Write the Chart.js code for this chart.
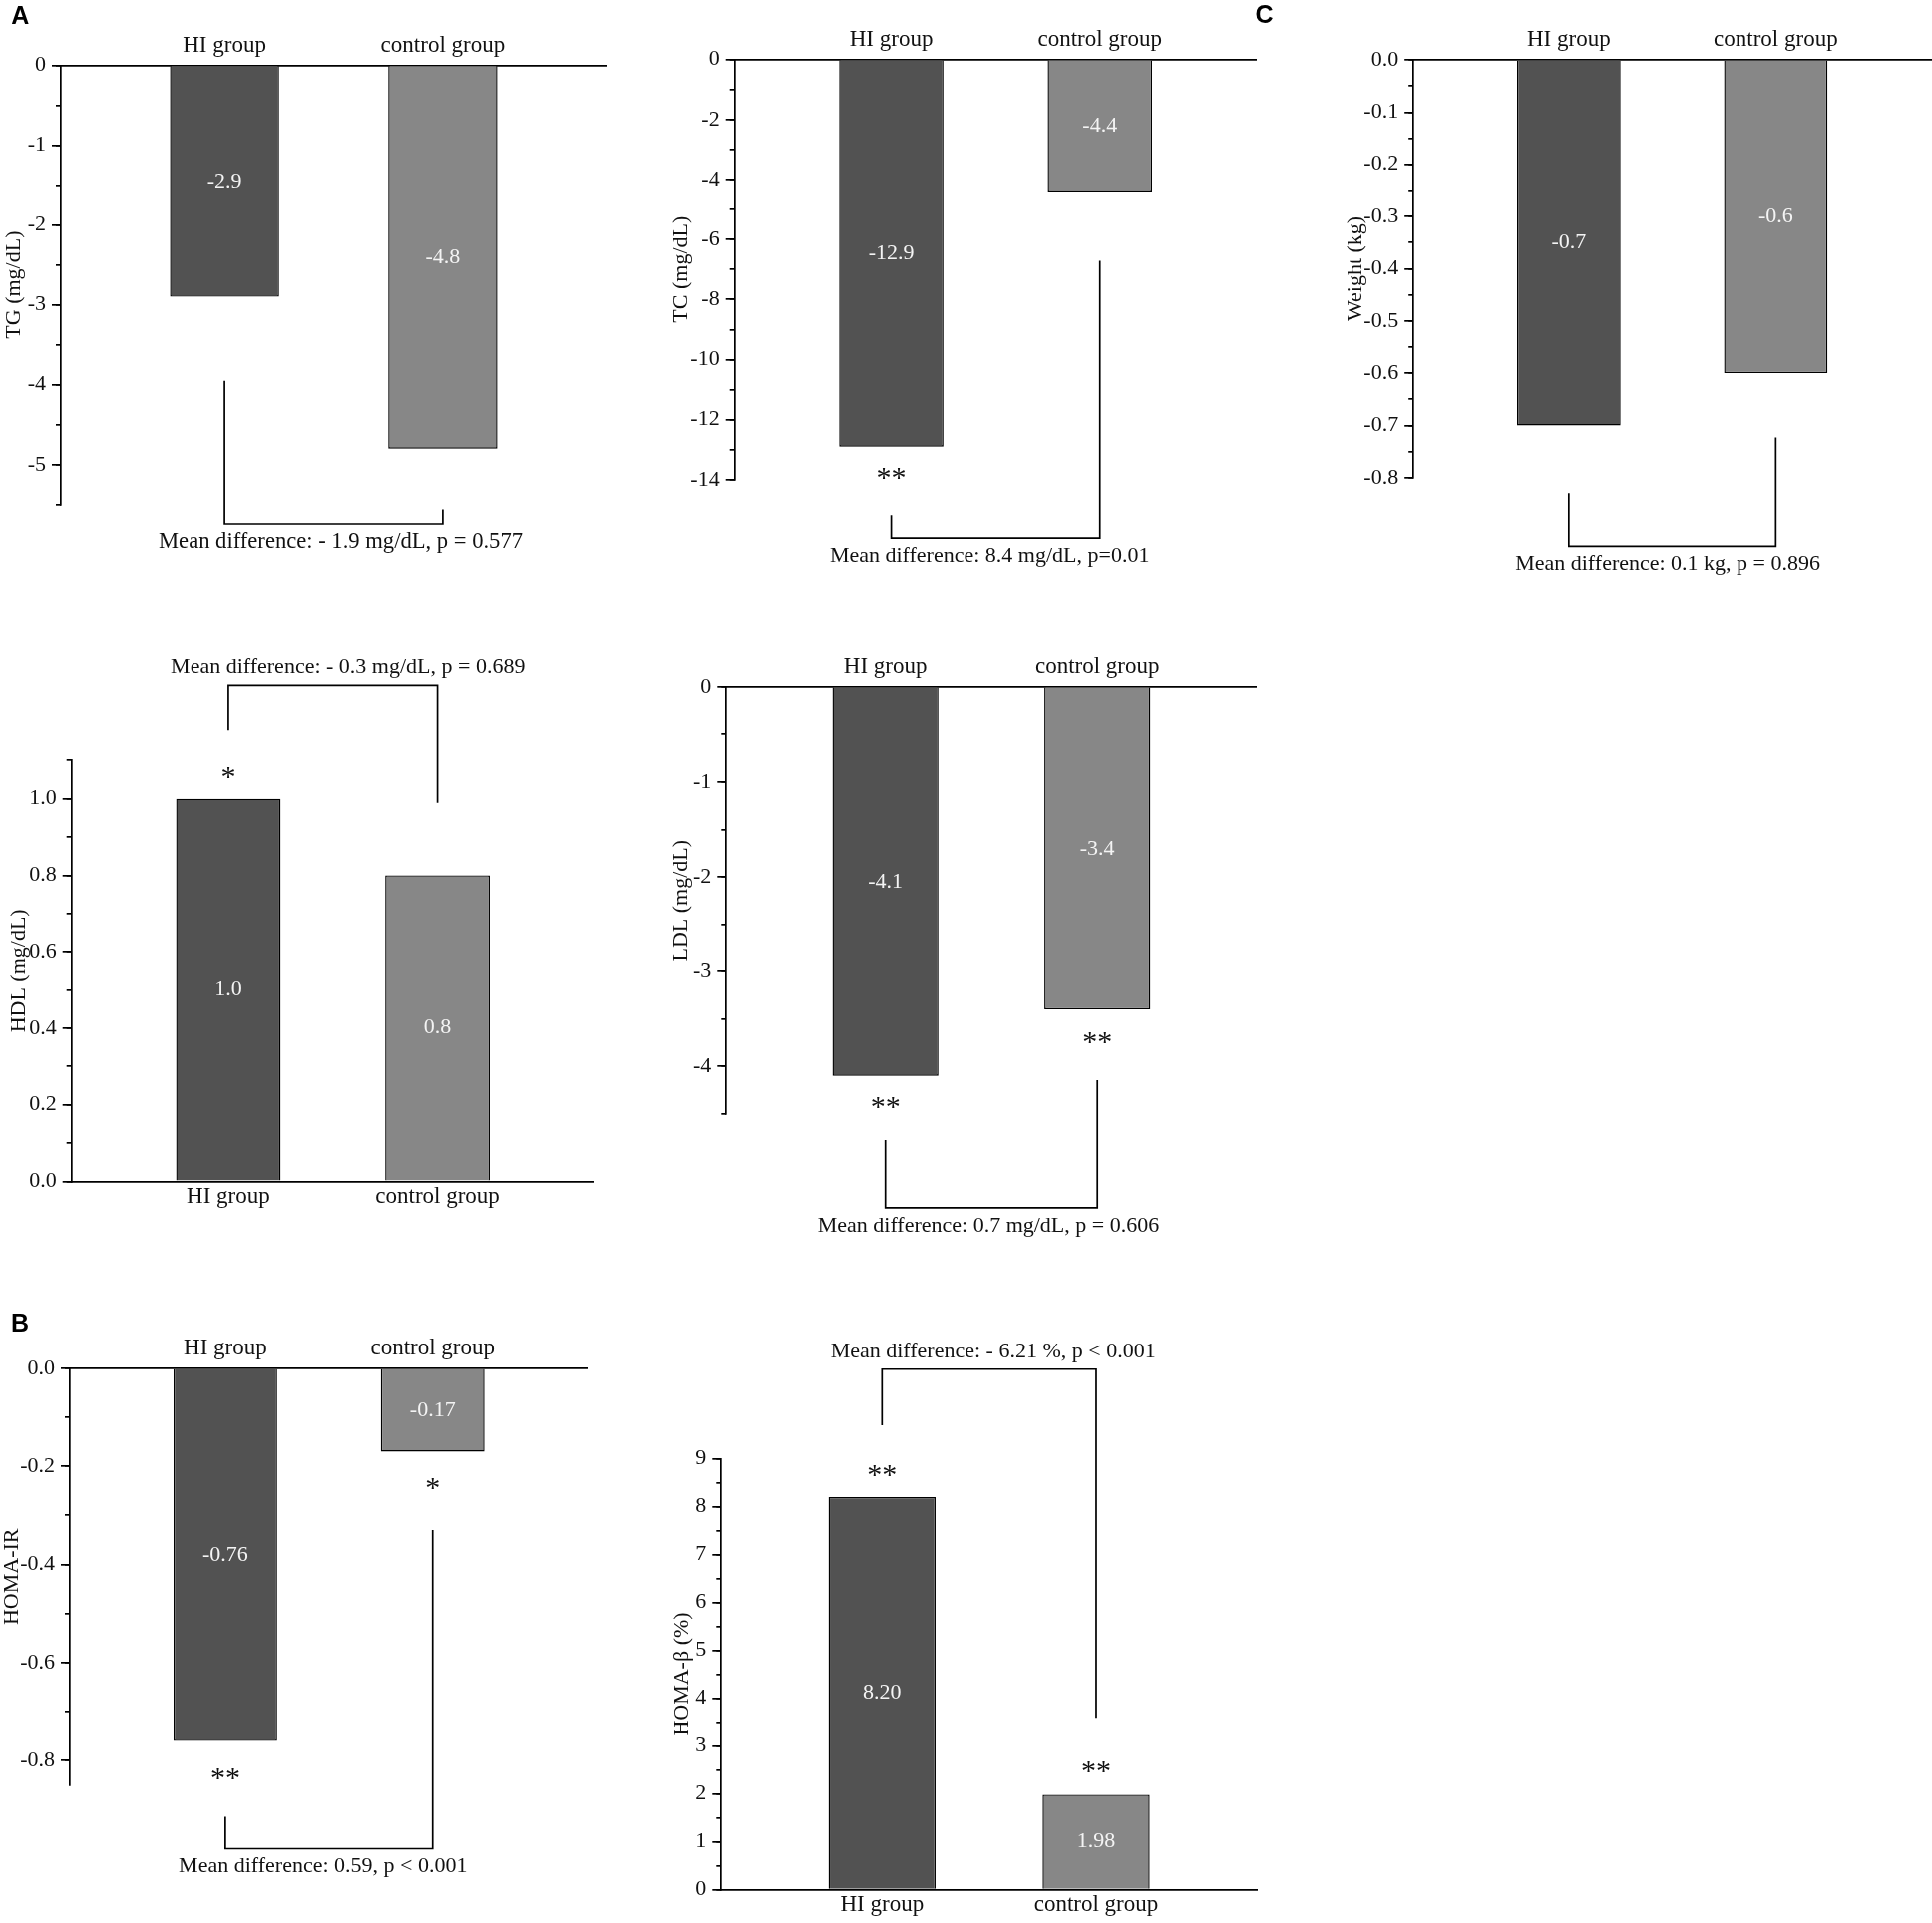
<!DOCTYPE html>
<html><head><meta charset="utf-8">
<script src="https://cdn.jsdelivr.net/npm/chart.js@4.4.1/dist/chart.umd.min.js"></script>
<style>
html,body{margin:0;padding:0;background:#fff;overflow:hidden;}
#wrap{position:relative;width:1937px;height:1928px;overflow:hidden;background:#fff;}
#wrap canvas{position:absolute;left:0;top:0;}
</style></head><body><div id="wrap"></div>
<script>
// ---------------- data ----------------
const categories = ['HI group', 'control group'];

const tgValues = [-2.9, -4.8];
const tcValues = [-12.9, -4.4];
const weightValues = [-0.7, -0.6];
const hdlValues = [1.0, 0.8];
const ldlValues = [-4.1, -3.4];
const homaIrValues = [-0.76, -0.17];
const homaBetaValues = [8.20, 1.98];

const tgTicks = ['0', '-1', '-2', '-3', '-4', '-5'];
const tcTicks = ['0', '-2', '-4', '-6', '-8', '-10', '-12', '-14'];
const weightTicks = ['0.0', '-0.1', '-0.2', '-0.3', '-0.4', '-0.5', '-0.6', '-0.7', '-0.8'];
const hdlTicks = ['0.0', '0.2', '0.4', '0.6', '0.8', '1.0'];
const ldlTicks = ['0', '-1', '-2', '-3', '-4'];
const homaIrTicks = ['0.0', '-0.2', '-0.4', '-0.6', '-0.8'];
const homaBetaTicks = ['0', '1', '2', '3', '4', '5', '6', '7', '8', '9'];

const tgStars = ['', ''];
const tcStars = ['**', ''];
const weightStars = ['', ''];
const hdlStars = ['*', ''];
const ldlStars = ['**', '**'];
const homaIrStars = ['**', '*'];
const homaBetaStars = ['**', '**'];

const meanTexts = [
  'Mean difference: - 1.9 mg/dL, p = 0.577',
  'Mean difference: 8.4 mg/dL, p=0.01',
  'Mean difference: 0.1 kg, p = 0.896',
  'Mean difference: - 0.3 mg/dL, p = 0.689',
  'Mean difference: 0.7 mg/dL, p = 0.606',
  'Mean difference: 0.59, p < 0.001',
  'Mean difference: - 6.21 %, p < 0.001'
];

// ---------------- style ----------------
const W = 1937, H = 1928;
const SERIF = "'Liberation Serif','Times New Roman',Times,serif";
const SANS = "'Liberation Sans',Arial,Helvetica,sans-serif";
const FONT = {family: SERIF, size: 22, lineHeight: 1.2};
const CAT_FONT = {family: SERIF, size: 23, lineHeight: 1.2};
const XH = 45;
const LW = 1.7;
const BAR_COLORS = ['#525252', '#878787'];
const TEXT = '#111';
Chart.defaults.font.family = SERIF;

const panels = [
  {id:'tg', values:tgValues, dec:1, title:'TG (mg/dL)', ticks:tgTicks, min:-5.5, max:0, minor:0.5, xPos:'top',
   titleX:14.6, axisX:61, right:608, top:65.4, bottom:505.8,
   stars:tgStars, starY:[0,0], bracket:{left:-3.95, right:-5.56, join:-5.74, dx:7}, meanText:meanTexts[0], meanSize:22.6,
   letter:{text:'A', x:20.3, y:16.7}},
  {id:'tc', values:tcValues, dec:1, title:'TC (mg/dL)', ticks:tcTicks, min:-14, max:0, minor:1, xPos:'top',
   titleX:683, axisX:736.7, right:1259.6, top:59.6, bottom:480.8,
   stars:tcStars, starY:[-13.80,0], bracket:{left:-15.18, right:-6.71, join:-15.94, dx:-6}, meanText:meanTexts[1], meanSize:22,
   letter:{text:'C', x:1267.5, y:16}},
  {id:'wt', values:weightValues, dec:1, title:'Weight (kg)', ticks:weightTicks, min:-0.8, max:0, minor:0.05, xPos:'top',
   titleX:1359, axisX:1417.2, right:1936, top:60, bottom:478.8,
   stars:weightStars, starY:[0,0], bracket:{left:-0.8294, right:-0.723, join:-0.9309, dx:-4.5}, meanText:meanTexts[2], meanSize:22},
  {id:'hdl', values:hdlValues, dec:1, title:'HDL (mg/dL)', ticks:hdlTicks, min:0, max:1.1, minor:0.1, xPos:'bottom',
   titleX:18.75, axisX:71.7, right:595.8, top:762.3, bottom:1184.4,
   stars:hdlStars, starY:[1.067,0], bracket:{left:1.178, right:0.9896, join:1.295, dx:15}, meanText:meanTexts[3], meanSize:22},
  {id:'ldl', values:ldlValues, dec:1, title:'LDL (mg/dL)', ticks:ldlTicks, min:-4.5, max:0, minor:0.5, xPos:'top',
   titleX:683, axisX:728.3, right:1259.6, top:688.75, bottom:1116.7,
   stars:ldlStars, starY:[-4.377,-3.702], bracket:{left:-4.776, right:-4.146, join:-5.49, dx:-3}, meanText:meanTexts[4], meanSize:22},
  {id:'hir', values:homaIrValues, dec:2, title:'HOMA-IR', ticks:homaIrTicks, min:-0.85, max:0, minor:0.1, xPos:'top',
   titleX:12.5, axisX:70, right:589.6, top:1371.8, bottom:1789.8,
   stars:homaIrStars, starY:[-0.8274,-0.2352], bracket:{left:-0.9146, right:-0.330, join:-0.9795, dx:-6}, meanText:meanTexts[5], meanSize:22,
   letter:{text:'B', x:20, y:1328.5}},
  {id:'hb', values:homaBetaValues, dec:2, title:'HOMA-\u03B2 (%)', ticks:homaBetaTicks, min:0, max:9, minor:0.5, xPos:'bottom',
   titleX:684, axisX:723.3, right:1260, top:1462.5, bottom:1894.5,
   stars:homaBetaStars, starY:[8.74,2.57], bracket:{left:9.70, right:3.59, join:10.87, dx:4}, meanText:meanTexts[6], meanSize:22}
];

function annot(p) {
  return {
    id: 'annot_' + p.id,
    afterDraw(chart) {
      const ctx = chart.ctx, xs = chart.scales.x, ys = chart.scales.y;
      const meta = chart.getDatasetMeta(0);
      ctx.save();
      // value labels in bars
      ctx.textAlign = 'center';
      ctx.textBaseline = 'middle';
      ctx.font = `22px ${SERIF}`;
      ctx.fillStyle = '#f4f4f4';
      meta.data.forEach((el, i) => {
        ctx.fillText(p.values[i].toFixed(p.dec), el.x, (el.y + el.base) / 2);
      });
      // significance stars
      ctx.fillStyle = TEXT;
      ctx.font = `30px ${SERIF}`;
      ctx.textBaseline = 'alphabetic';
      p.stars.forEach((s, i) => {
        if (!s) return;
        const m = ctx.measureText(s);
        const cx = xs.getPixelForValue(i + 1);
        const cy = ys.getPixelForValue(p.starY[i]);
        ctx.fillText(s, cx, cy + (m.actualBoundingBoxAscent - m.actualBoundingBoxDescent) / 2);
      });
      // bracket
      const b = p.bracket;
      const x1 = xs.getPixelForValue(1), x2 = xs.getPixelForValue(2);
      const yl = ys.getPixelForValue(b.left), yr = ys.getPixelForValue(b.right), yj = ys.getPixelForValue(b.join);
      ctx.strokeStyle = '#000';
      ctx.lineWidth = LW;
      ctx.beginPath();
      ctx.moveTo(x1, yl); ctx.lineTo(x1, yj); ctx.lineTo(x2, yj); ctx.lineTo(x2, yr);
      ctx.stroke();
      const above = yj < Math.min(yl, yr);
      ctx.font = `${p.meanSize}px ${SERIF}`;
      ctx.textBaseline = 'middle';
      ctx.fillStyle = TEXT;
      ctx.fillText(p.meanText, (x1 + x2) / 2 + b.dx, yj + (above ? -18 : 18));
      // panel letter
      if (p.letter) {
        ctx.font = `bold 25px ${SANS}`;
        ctx.fillStyle = '#000';
        ctx.textBaseline = 'middle';
        ctx.fillText(p.letter.text, p.letter.x, p.letter.y);
      }
      ctx.restore();
    }
  };
}

function zeroPads(s) { s.paddingTop = 0; s.paddingBottom = 0; s.paddingLeft = 0; s.paddingRight = 0; }

function makePanel(p) {
  const cv = document.createElement('canvas');
  cv.width = W; cv.height = H;
  cv.style.width = W + 'px'; cv.style.height = H + 'px';
  document.getElementById('wrap').appendChild(cv);
  const padLeft = p.titleX - FONT.size * FONT.lineHeight / 2;
  const isTop = p.xPos === 'top';
  const padding = {
    left: padLeft,
    right: W - p.right,
    top: isTop ? p.top - XH : p.top,
    bottom: isTop ? H - p.bottom : H - p.bottom - XH
  };
  new Chart(cv, {
    type: 'bar',
    data: {
      datasets: [{
        data: p.values.map((v, i) => ({x: i + 1, y: v})),
        xAxisID: 'x', yAxisID: 'y',
        backgroundColor: BAR_COLORS,
        borderColor: '#000',
        borderWidth: 1.4,
        categoryPercentage: 0.5,
        barPercentage: 1
      }]
    },
    options: {
      responsive: false, animation: false, devicePixelRatio: 1, events: [],
      layout: {padding},
      plugins: {legend: {display: false}, tooltip: {enabled: false}},
      scales: {
        x: {
          type: 'linear', position: p.xPos, min: 0.25, max: 2.75, offset: false,
          grid: {display: false, drawTicks: false, offset: false},
          border: {display: true, color: '#000', width: LW},
          ticks: {font: CAT_FONT, color: TEXT, padding: isTop ? 6 : 2, autoSkip: false, maxRotation: 0,
                  callback: v => categories[Math.round(v) - 1] || ''},
          afterBuildTicks: s => { s.ticks = categories.map((c, i) => ({value: i + 1})); },
          afterFit: s => { s.height = XH; zeroPads(s); }
        },
        y: {
          type: 'linear', position: 'left', weight: 1, min: p.min, max: p.max,
          title: {display: true, text: p.title, font: FONT, color: TEXT, padding: 0},
          grid: {drawOnChartArea: false, drawTicks: true, tickLength: 9, color: '#000', lineWidth: LW},
          border: {display: true, color: '#000', width: LW},
          ticks: {font: FONT, color: TEXT, padding: 6, autoSkip: false, callback: (v, i) => p.ticks[i]},
          afterBuildTicks: s => { s.ticks = p.ticks.map(t => ({value: parseFloat(t)})); },
          afterFit: s => { s.width = p.axisX - padLeft; zeroPads(s); }
        },
        yMinor: {
          type: 'linear', position: 'left', weight: 0, min: p.min, max: p.max,
          ticks: {display: false, stepSize: p.minor, includeBounds: false},
          grid: {drawOnChartArea: false, drawTicks: true, tickLength: 5, color: '#000', lineWidth: LW},
          border: {display: false},
          afterFit: s => { s.width = 0; zeroPads(s); }
        }
      }
    },
    plugins: [annot(p)]
  });
}

panels.forEach(makePanel);
</script>
</body></html>
